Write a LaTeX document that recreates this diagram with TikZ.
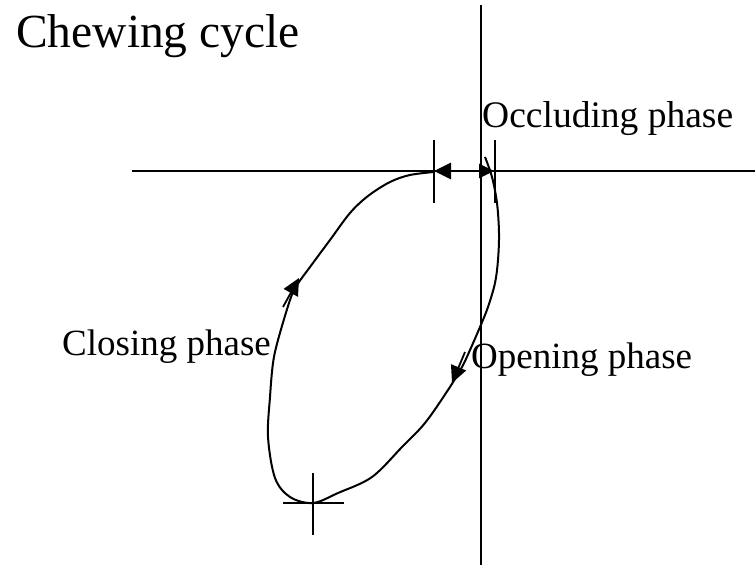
\documentclass[tikz,border=0pt]{standalone}
\usepackage{fontspec}
\setmainfont{Liberation Serif}
\usetikzlibrary{arrows.meta}
\begin{document}
\begin{tikzpicture}[x=1pt,y=-1pt,
  axis/.style={line width=2pt},
  curve/.style={line width=2pt},
  tick/.style={line width=2pt},
  lbl/.style={anchor=base west,inner sep=0pt,font=\fontsize{37}{40}\selectfont},
  ttl/.style={anchor=base west,inner sep=0pt,font=\fontsize{47.5}{50}\selectfont},
  head/.style={-{Triangle[length=17pt,width=16pt]},line width=1.8pt}]
\useasboundingbox (0,0) rectangle (755,565);
% axes
\coordinate (vtop) at (481,5);
\coordinate (vbot) at (481,565);
\coordinate (hl) at (132,171);
\coordinate (hr) at (755,171);
\draw[axis] (vtop) -- (vbot);
\draw[axis] (hl) -- (hr);
% chewing loop
\draw[curve] plot[smooth,tension=0.55] coordinates {
 (485,157) (492,177) (497,203) (499,233) (498,260) (495,283) (488,307)
 (480,327) (470,350) (462,367) (448,390) (425,423) (402,447) (372,477)
 (338,493) (313,503) (290,497) (275,478) (268,437) (270,397) (273,363)
 (278,340) (290,300) (297,285) (310,267) (330,240) (350,213)
 (368,196) (390,182) (410,175) (434,172)};
% occluding arrow
\coordinate (oa) at (434,171);
\coordinate (ob) at (494,171);
\draw[line width=2.8pt,{Triangle[length=17pt,width=16pt]}-{Triangle[length=15pt,width=14pt]}] (oa) -- (ob);
% ticks
\coordinate (t1a) at (434,140);
\coordinate (t1b) at (434,203);
\coordinate (t2a) at (495,140);
\coordinate (t2b) at (495,203);
\draw[tick] (t1a) -- (t1b);
\draw[tick] (t2a) -- (t2b);
\coordinate (b1) at (283,503);
\coordinate (b2) at (344,503);
\coordinate (b3) at (313,473);
\coordinate (b4) at (313,535);
\draw[tick] (b1) -- (b2);
\draw[tick] (b3) -- (b4);
% phase arrows
\coordinate (ca) at (283,307);
\coordinate (cb) at (299,278);
\draw[head] (ca) -- (cb);
\coordinate (pa) at (465,352);
\coordinate (pb) at (452,383);
\draw[head] (pa) -- (pb);
% texts
\node[ttl] (title) at (16,47) {Chewing cycle};
\node[lbl,font=\fontsize{37.5}{40}\selectfont] (occ) at (482,127) {Occluding phase};
\node[lbl] (clo) at (62,355) {Closing phase};
\node[lbl] (ope) at (471,368) {Opening phase};
\end{tikzpicture}
\end{document}
